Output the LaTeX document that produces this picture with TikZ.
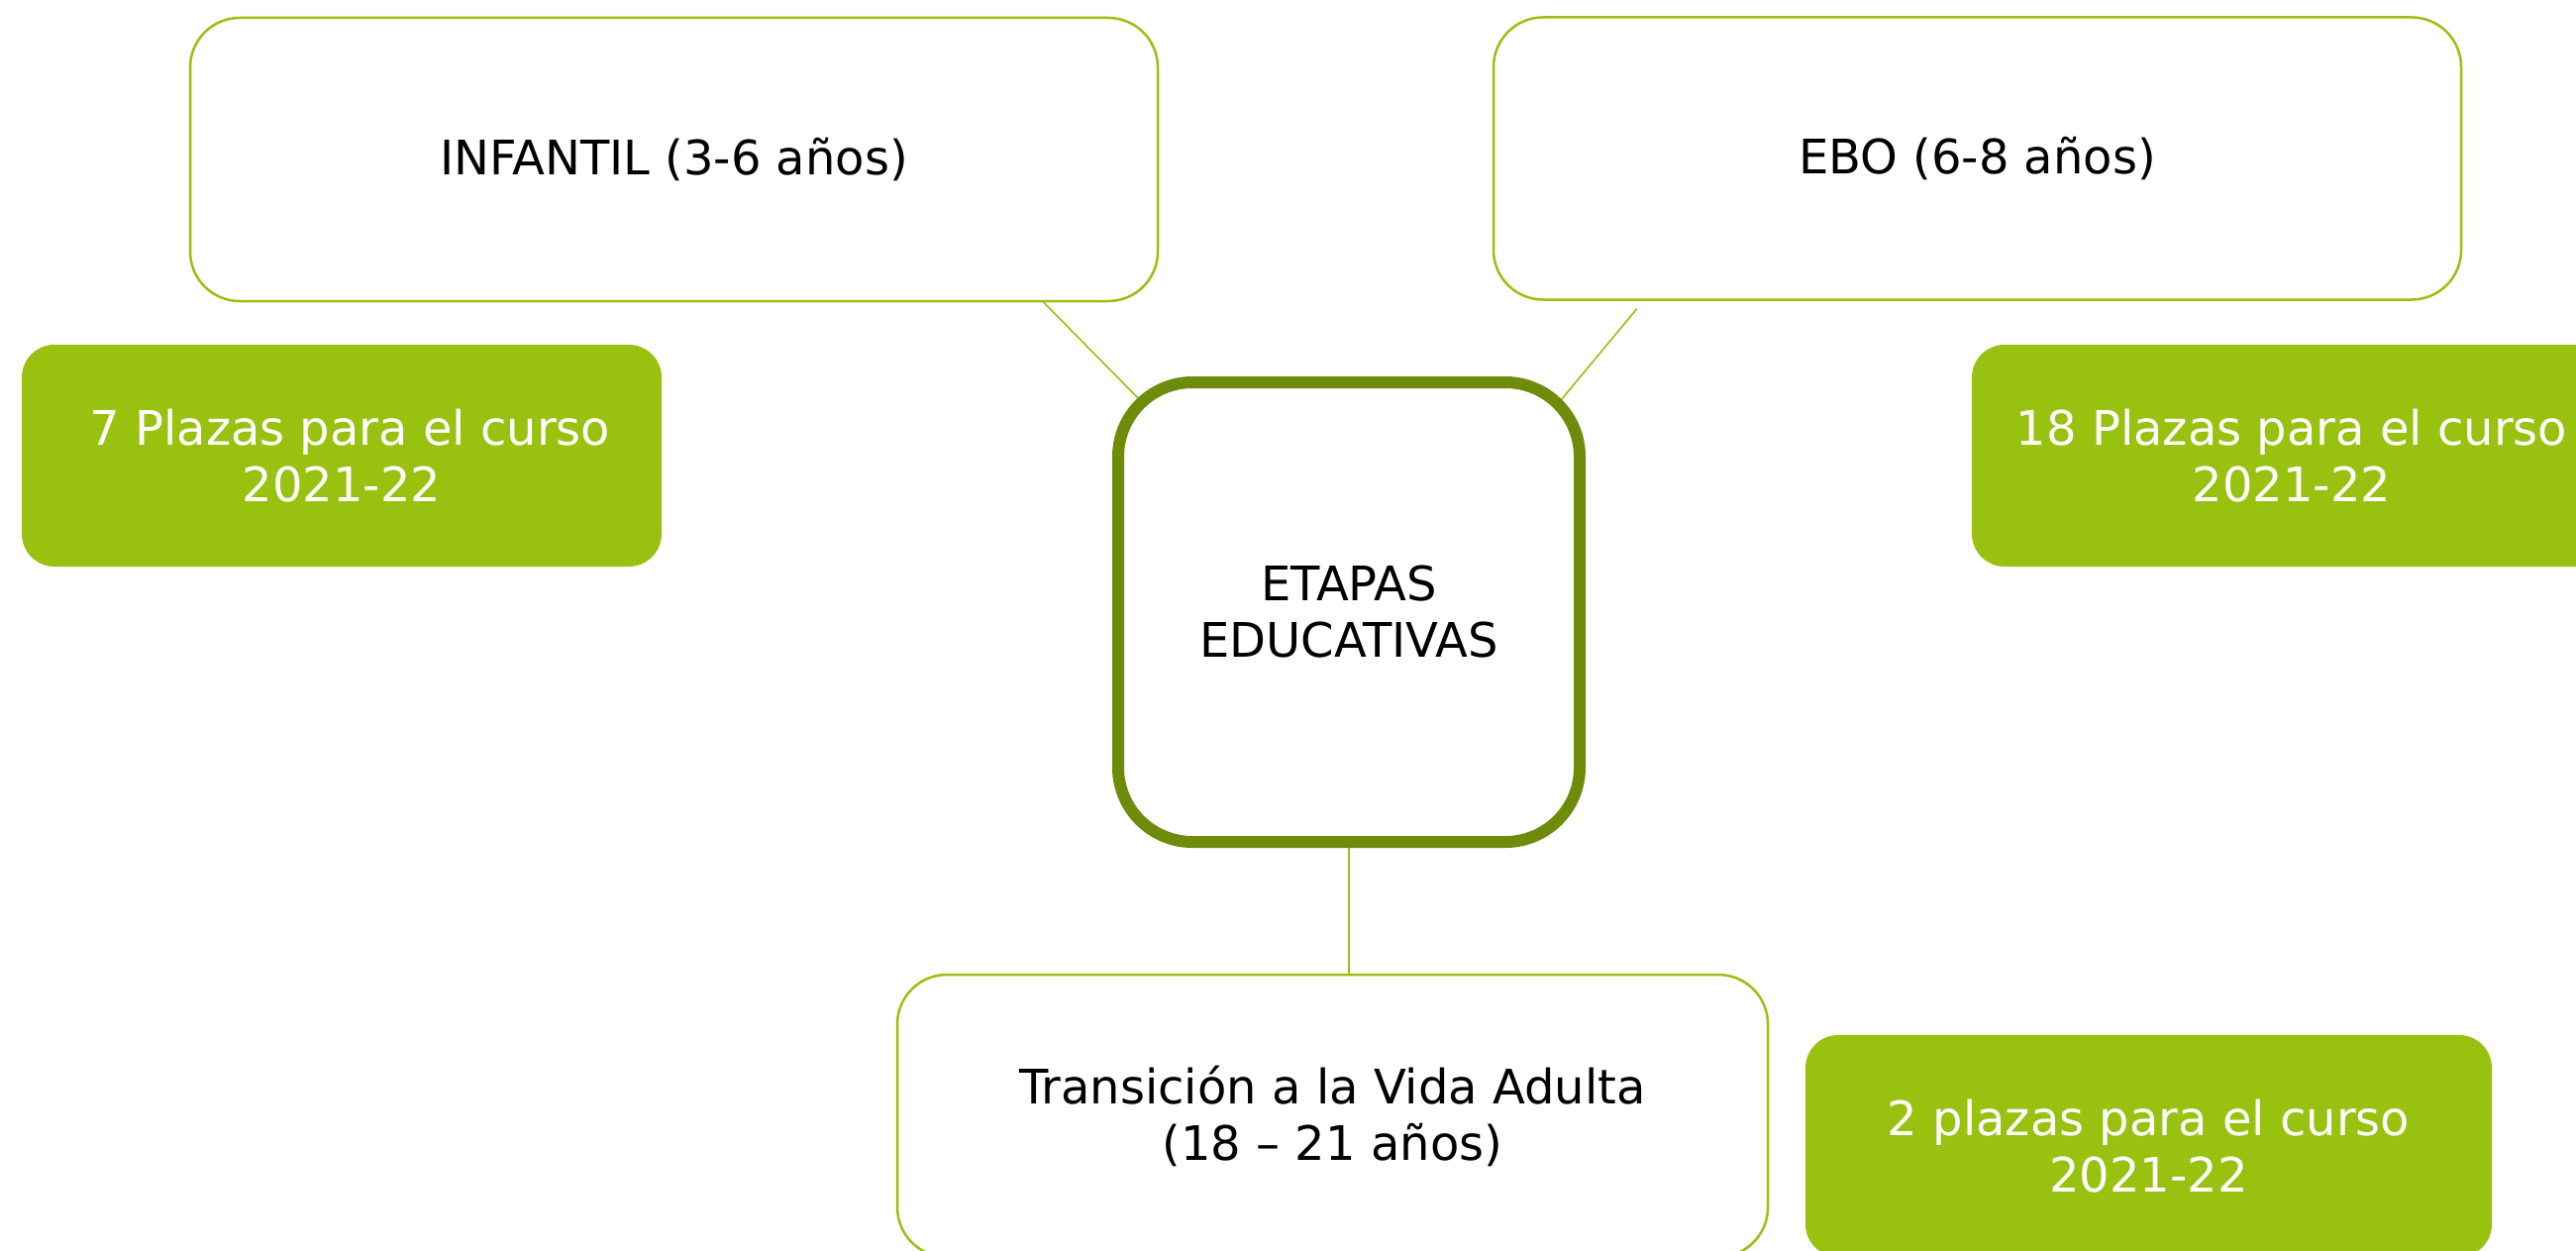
\documentclass[tikz,border=0pt]{standalone}
\usepackage{fontspec}
\setmainfont{DejaVu Sans}
\usetikzlibrary{calc}
\definecolor{lgreen}{RGB}{153,193,15}
\definecolor{dgreen}{RGB}{111,139,10}
\pgfdeclarelayer{back}
\pgfdeclarelayer{bg}
\pgfsetlayers{back,bg,main}
\begin{document}
\begin{tikzpicture}[x=1pt,y=-1pt,
  font=\fontsize{48}{57}\selectfont,
  stage/.style={draw=lgreen, line width=2.5pt, fill=white, rounded corners=50pt, inner sep=0pt, align=center, text=black},
  info/.style={fill=lgreen, rounded corners=33pt, inner sep=0pt, align=center, text=white, minimum width=646pt, minimum height=224pt},
  hub/.style={draw=dgreen, line width=12pt, fill=white, rounded corners=75pt, inner sep=0pt, align=center, text=black},
  link/.style={draw=lgreen, line width=1.6pt}]
\clip (0,0) rectangle (2601,1263);
\begin{pgfonlayer}{back}
\fill[white] (0,0) rectangle (2601,1263);
\end{pgfonlayer}
\node[stage, minimum width=977pt, minimum height=286pt] (inf) at (680.5,161) {INFANTIL (3-6 años)};
\node[stage, minimum width=977pt, minimum height=285pt] (ebo) at (1996.5,160) {EBO (6-8 años)};
\node[hub, minimum width=466pt, minimum height=464pt] (cen) at (1362,618) {ETAPAS\\EDUCATIVAS};
\node[stage, minimum width=879pt, minimum height=285pt] (tra) at (1345.5,1126.5) {Transición a la Vida Adulta\\(18 – 21 años)};
\node[info] (g7) at (345,460) {\hspace*{0.35em}7 Plazas para el curso\\2021-22};
\node[info] (g18) at (2314,460) {18 Plazas para el curso\\2021-22};
\node[info, minimum width=693pt] (g2) at (2169.5,1157) {2 plazas para el curso\\2021-22};
\coordinate (cenNE) at ($(cen.center)+(214,-214)$);
\begin{pgfonlayer}{bg}
\draw[link] ($(inf.south west)+(863,0)$) -- (cen.center);
\draw[link] ($(ebo.south west)+(146,8)$) -- (cenNE);
\draw[link] (cen.south) -- (cen.south |- tra.north);
\end{pgfonlayer}
\end{tikzpicture}
\end{document}
